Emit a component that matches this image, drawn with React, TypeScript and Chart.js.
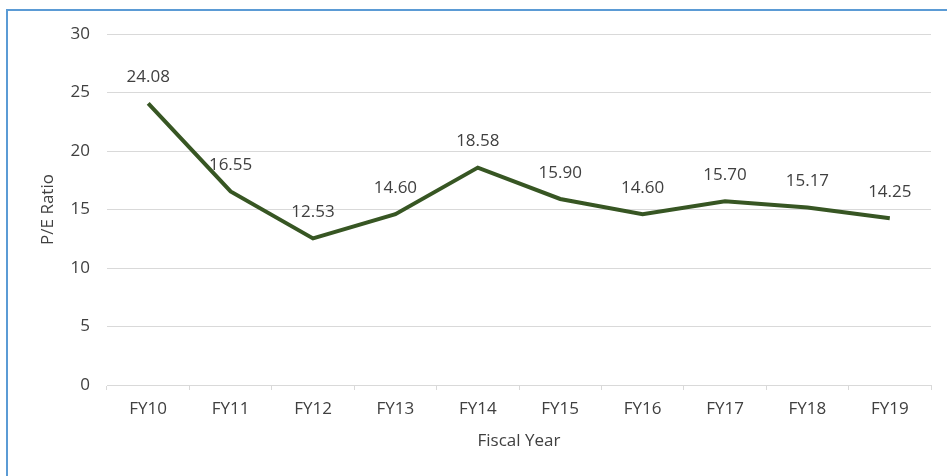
import React, { useEffect, useRef } from "react";
import { Chart, registerables } from "chart.js";

Chart.register(...registerables);

const categories = ["FY10", "FY11", "FY12", "FY13", "FY14", "FY15", "FY16", "FY17", "FY18", "FY19"];
const peRatio = [24.08, 16.55, 12.53, 14.6, 18.58, 15.9, 14.6, 15.7, 15.17, 14.25];
const yTicks = [0, 5, 10, 15, 20, 25, 30];
const xTitle = "Fiscal Year";
const yTitle = "P/E Ratio";

const FONT = "'Open Sans', 'Noto Sans', sans-serif";
const TEXT = "#404040";
const FS = 17;

const labelsPlugin = {
  id: "customLabels",
  afterDatasetsDraw(chart: any) {
    const ctx = chart.ctx;
    const meta = chart.getDatasetMeta(0);
    ctx.save();
    ctx.font = `${FS}px ${FONT}`;
    ctx.fillStyle = TEXT;
    ctx.textAlign = "center";
    ctx.textBaseline = "middle";
    meta.data.forEach((pt: any, i: number) => {
      ctx.fillText(peRatio[i].toFixed(2), pt.x, pt.y - 26);
    });
    const ca = chart.chartArea;
    ctx.fillText(xTitle, (ca.left + ca.right) / 2, 441);
    ctx.translate(48, (ca.top + ca.bottom) / 2);
    ctx.rotate(-Math.PI / 2);
    ctx.fillText(yTitle, 0, 0);
    ctx.restore();
  },
};

export default function App() {
  const ref = useRef<HTMLCanvasElement>(null);
  useEffect(() => {
    if (!ref.current) return;
    const chart = new Chart(ref.current, {
      type: "line",
      data: {
        labels: categories,
        datasets: [
          {
            data: peRatio,
            borderColor: "#375623",
            borderWidth: 4,
            pointRadius: 0,
            tension: 0,
            fill: false,
          },
        ],
      },
      options: {
        responsive: false,
        animation: false,
        layout: { padding: { left: 0, right: 16, top: 34, bottom: 0 } },
        plugins: { legend: { display: false }, tooltip: { enabled: false } },
        scales: {
          x: {
            offset: true,
            grid: {
              offset: true,
              drawOnChartArea: false,
              drawTicks: true,
              tickLength: 5,
              color: "#d9d9d9",
            },
            border: { display: true, color: "#d9d9d9", width: 1 },
            ticks: { color: TEXT, font: { family: FONT, size: FS }, padding: 9, maxRotation: 0 },
            afterFit: (s: any) => {
              s.height = 91;
            },
          },
          y: {
            min: 0,
            max: 30,
            afterBuildTicks: (s: any) => {
              s.ticks = yTicks.map((v) => ({ value: v }));
            },
            grid: { color: "#d9d9d9", drawTicks: false, lineWidth: 1 },
            border: { display: false },
            ticks: { color: TEXT, font: { family: FONT, size: FS }, padding: 17 },
            afterFit: (s: any) => {
              s.width = 107;
            },
          },
        },
      },
      plugins: [labelsPlugin],
    });
    return () => chart.destroy();
  }, []);
  return (
    <div style={{ position: "fixed", left: 0, top: 0, width: 947, height: 476, background: "#fff", overflow: "hidden" }}>
      <div
        style={{
          position: "absolute",
          left: 6,
          top: 9,
          width: 960,
          height: 490,
          border: "2px solid #5B9BD5",
          boxSizing: "border-box",
        }}
      />
      <canvas ref={ref} width={947} height={476} style={{ position: "absolute", left: 0, top: 0 }} />
    </div>
  );
}
